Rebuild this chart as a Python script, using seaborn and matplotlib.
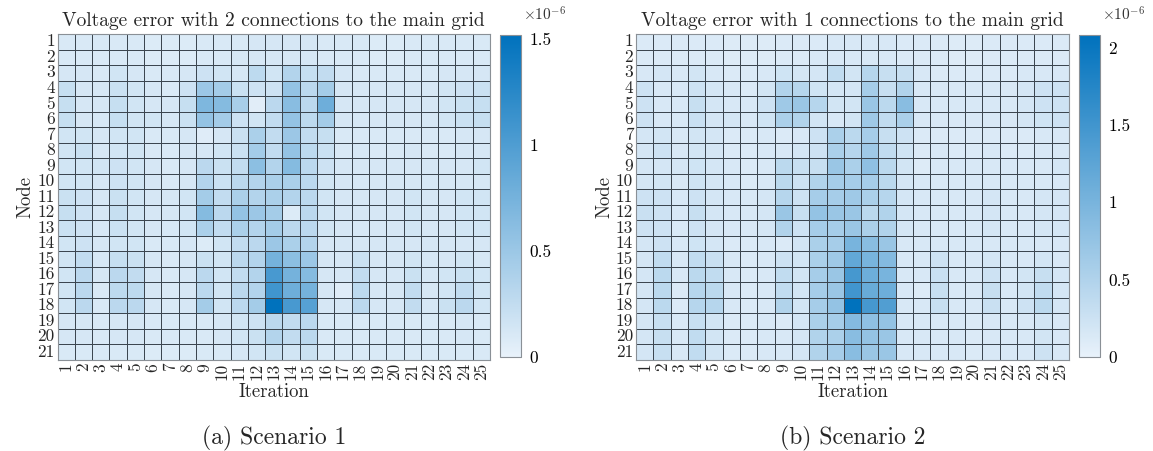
import numpy as np
import pandas as pd
import matplotlib
matplotlib.use("Agg")
import matplotlib.pyplot as plt
from matplotlib.colors import LinearSegmentedColormap
import seaborn as sns

# ---------------- data (units of 1e-6) ----------------
nodes = [str(i) for i in range(1, 22)]
iterations = [str(i) for i in range(1, 26)]

titles = ["Voltage error with 2 connections to the main grid",
          "Voltage error with 1 connections to the main grid"]
captions = ["(a) Scenario 1", "(b) Scenario 2"]
cbar_ticks_1 = [0, 0.5, 1, 1.5]
cbar_ticks_2 = [0, 0.5, 1, 1.5, 2]

scenario1 = [
    [0.10,0.10,0.10,0.10,0.10,0.08,0.08,0.08,0.10,0.10,0.10,0.12,0.12,0.12,0.12,0.10,0.10,0.10,0.08,0.08,0.10,0.10,0.10,0.10,0.10],
    [0.10,0.10,0.10,0.10,0.10,0.08,0.08,0.08,0.10,0.10,0.12,0.12,0.12,0.12,0.12,0.10,0.10,0.10,0.08,0.08,0.10,0.10,0.10,0.10,0.10],
    [0.12,0.12,0.10,0.15,0.12,0.10,0.10,0.12,0.18,0.15,0.12,0.28,0.15,0.35,0.22,0.25,0.12,0.10,0.10,0.10,0.10,0.10,0.12,0.12,0.12],
    [0.22,0.12,0.12,0.20,0.15,0.12,0.10,0.18,0.50,0.45,0.20,0.18,0.18,0.55,0.30,0.45,0.12,0.12,0.12,0.12,0.12,0.12,0.15,0.18,0.20],
    [0.22,0.12,0.12,0.22,0.15,0.12,0.12,0.22,0.70,0.65,0.42,0.05,0.30,0.62,0.30,0.80,0.12,0.12,0.12,0.12,0.12,0.12,0.15,0.20,0.22],
    [0.22,0.12,0.12,0.22,0.15,0.15,0.12,0.20,0.55,0.45,0.18,0.15,0.25,0.55,0.28,0.45,0.12,0.12,0.12,0.12,0.12,0.12,0.15,0.20,0.22],
    [0.15,0.15,0.12,0.15,0.15,0.10,0.10,0.12,0.06,0.12,0.20,0.40,0.25,0.50,0.25,0.22,0.10,0.10,0.10,0.10,0.10,0.10,0.10,0.12,0.12],
    [0.15,0.20,0.12,0.15,0.15,0.10,0.10,0.12,0.12,0.15,0.20,0.45,0.25,0.55,0.28,0.20,0.10,0.12,0.10,0.10,0.12,0.10,0.10,0.12,0.12],
    [0.15,0.15,0.15,0.18,0.15,0.12,0.10,0.12,0.30,0.20,0.25,0.60,0.35,0.65,0.30,0.18,0.12,0.12,0.12,0.12,0.12,0.12,0.12,0.12,0.15],
    [0.15,0.15,0.12,0.18,0.15,0.12,0.10,0.12,0.35,0.20,0.30,0.35,0.40,0.40,0.30,0.15,0.12,0.12,0.12,0.12,0.12,0.12,0.12,0.12,0.12],
    [0.20,0.18,0.12,0.20,0.15,0.12,0.12,0.15,0.45,0.25,0.40,0.35,0.40,0.35,0.30,0.15,0.12,0.12,0.12,0.12,0.15,0.12,0.12,0.15,0.15],
    [0.22,0.18,0.12,0.22,0.15,0.12,0.12,0.15,0.65,0.30,0.55,0.50,0.45,0.08,0.30,0.15,0.12,0.12,0.12,0.12,0.15,0.12,0.12,0.15,0.15],
    [0.20,0.18,0.12,0.20,0.15,0.12,0.12,0.15,0.40,0.25,0.40,0.35,0.45,0.30,0.30,0.15,0.12,0.12,0.12,0.12,0.15,0.12,0.12,0.15,0.15],
    [0.15,0.18,0.12,0.15,0.15,0.10,0.10,0.12,0.08,0.15,0.25,0.30,0.50,0.40,0.35,0.12,0.12,0.12,0.12,0.12,0.12,0.12,0.12,0.12,0.12],
    [0.15,0.25,0.12,0.22,0.20,0.12,0.10,0.12,0.20,0.15,0.30,0.35,0.75,0.60,0.50,0.12,0.12,0.20,0.12,0.12,0.15,0.12,0.12,0.15,0.12],
    [0.15,0.30,0.12,0.30,0.25,0.12,0.10,0.12,0.30,0.15,0.25,0.35,1.05,0.75,0.65,0.12,0.12,0.25,0.12,0.12,0.20,0.12,0.15,0.20,0.15],
    [0.15,0.30,0.10,0.28,0.28,0.12,0.10,0.12,0.30,0.15,0.30,0.35,1.10,0.80,0.75,0.12,0.06,0.28,0.12,0.12,0.25,0.12,0.15,0.25,0.15],
    [0.15,0.30,0.10,0.30,0.30,0.12,0.10,0.12,0.45,0.15,0.30,0.45,1.52,1.05,0.95,0.12,0.12,0.30,0.12,0.12,0.25,0.12,0.20,0.30,0.15],
    [0.12,0.12,0.10,0.12,0.12,0.10,0.10,0.10,0.10,0.12,0.15,0.18,0.30,0.25,0.30,0.10,0.10,0.10,0.10,0.10,0.10,0.10,0.10,0.12,0.10],
    [0.12,0.12,0.10,0.12,0.12,0.10,0.10,0.10,0.10,0.12,0.15,0.20,0.35,0.25,0.30,0.10,0.10,0.10,0.10,0.10,0.10,0.10,0.10,0.12,0.10],
    [0.10,0.10,0.10,0.10,0.10,0.08,0.08,0.08,0.10,0.10,0.12,0.15,0.20,0.15,0.20,0.10,0.10,0.10,0.10,0.10,0.10,0.10,0.10,0.10,0.10],
]

scenario2 = [
    [0.12,0.12,0.12,0.12,0.12,0.10,0.10,0.10,0.12,0.12,0.12,0.15,0.15,0.15,0.15,0.12,0.12,0.12,0.10,0.10,0.12,0.12,0.12,0.12,0.12],
    [0.12,0.12,0.12,0.12,0.12,0.10,0.10,0.10,0.12,0.12,0.15,0.15,0.15,0.15,0.15,0.12,0.12,0.12,0.10,0.10,0.12,0.12,0.12,0.12,0.12],
    [0.15,0.18,0.15,0.20,0.15,0.12,0.12,0.15,0.22,0.18,0.18,0.35,0.20,0.45,0.30,0.30,0.15,0.12,0.12,0.12,0.12,0.12,0.15,0.15,0.15],
    [0.25,0.15,0.15,0.25,0.18,0.15,0.12,0.20,0.50,0.45,0.22,0.18,0.18,0.60,0.30,0.50,0.15,0.15,0.15,0.15,0.15,0.15,0.18,0.25,0.25],
    [0.25,0.15,0.15,0.30,0.18,0.15,0.15,0.25,0.65,0.70,0.45,0.20,0.20,0.70,0.40,0.85,0.15,0.15,0.15,0.15,0.15,0.15,0.18,0.25,0.25],
    [0.25,0.15,0.15,0.28,0.18,0.18,0.15,0.22,0.55,0.50,0.20,0.15,0.20,0.65,0.35,0.55,0.15,0.15,0.15,0.15,0.15,0.15,0.18,0.22,0.25],
    [0.18,0.20,0.15,0.20,0.18,0.12,0.12,0.15,0.12,0.15,0.25,0.55,0.40,0.60,0.30,0.25,0.12,0.12,0.12,0.12,0.12,0.12,0.12,0.15,0.15],
    [0.18,0.25,0.15,0.20,0.18,0.12,0.12,0.15,0.15,0.18,0.25,0.55,0.45,0.65,0.35,0.22,0.12,0.15,0.12,0.12,0.15,0.12,0.12,0.15,0.15],
    [0.18,0.18,0.18,0.22,0.18,0.15,0.12,0.15,0.40,0.30,0.30,0.70,0.55,0.80,0.40,0.20,0.10,0.15,0.15,0.15,0.15,0.15,0.15,0.15,0.18],
    [0.18,0.20,0.15,0.22,0.18,0.15,0.12,0.15,0.40,0.25,0.50,0.60,0.60,0.60,0.40,0.18,0.15,0.15,0.15,0.15,0.15,0.15,0.15,0.15,0.15],
    [0.25,0.25,0.15,0.25,0.18,0.15,0.15,0.18,0.45,0.25,0.60,0.60,0.65,0.55,0.45,0.18,0.15,0.15,0.15,0.15,0.18,0.15,0.15,0.18,0.18],
    [0.28,0.25,0.15,0.30,0.18,0.15,0.15,0.18,0.70,0.30,0.75,0.70,0.70,0.40,0.50,0.18,0.15,0.15,0.15,0.15,0.18,0.15,0.15,0.18,0.18],
    [0.25,0.25,0.15,0.25,0.18,0.15,0.15,0.18,0.50,0.25,0.60,0.60,0.70,0.55,0.50,0.18,0.15,0.15,0.15,0.15,0.18,0.15,0.15,0.18,0.18],
    [0.18,0.25,0.15,0.22,0.18,0.12,0.12,0.15,0.12,0.20,0.55,0.60,1.00,0.85,0.70,0.15,0.15,0.15,0.15,0.15,0.15,0.15,0.15,0.15,0.15],
    [0.18,0.35,0.15,0.35,0.28,0.15,0.12,0.15,0.25,0.20,0.55,0.65,1.20,1.00,0.90,0.15,0.15,0.25,0.15,0.15,0.18,0.15,0.15,0.20,0.15],
    [0.18,0.40,0.15,0.40,0.35,0.15,0.12,0.15,0.35,0.20,0.60,0.70,1.45,1.10,1.00,0.15,0.15,0.28,0.15,0.15,0.25,0.15,0.20,0.30,0.18],
    [0.18,0.40,0.12,0.45,0.40,0.15,0.12,0.15,0.35,0.20,0.60,0.70,1.50,1.15,1.10,0.15,0.10,0.30,0.15,0.15,0.30,0.15,0.20,0.35,0.18],
    [0.18,0.40,0.12,0.45,0.45,0.15,0.12,0.15,0.50,0.20,0.60,0.75,2.08,1.45,1.35,0.15,0.15,0.30,0.15,0.15,0.28,0.15,0.25,0.40,0.18],
    [0.18,0.30,0.15,0.30,0.20,0.12,0.12,0.15,0.12,0.18,0.55,0.60,0.90,0.80,0.75,0.15,0.15,0.15,0.15,0.12,0.15,0.15,0.15,0.20,0.15],
    [0.18,0.30,0.15,0.35,0.20,0.12,0.12,0.15,0.15,0.18,0.50,0.55,0.85,0.75,0.70,0.15,0.15,0.15,0.15,0.12,0.15,0.15,0.15,0.20,0.15],
    [0.18,0.30,0.15,0.35,0.20,0.12,0.12,0.15,0.15,0.18,0.50,0.60,0.85,0.70,0.70,0.15,0.15,0.15,0.15,0.12,0.15,0.15,0.15,0.25,0.15],
]

# ---------------- style ----------------
sns.set_style("white")
plt.rcParams["font.family"] = ["cmr10", "DejaVu Serif"]
plt.rcParams["mathtext.fontset"] = "cm"
plt.rcParams["axes.formatter.use_mathtext"] = True

cmap = LinearSegmentedColormap.from_list("mblue", ["#e8f1fa", "#0072bd"])

W, H = 1153, 451
fig = plt.figure(figsize=(W / 100, H / 100), dpi=100)


def px_axes(x0, y0, x1, y1):
    return fig.add_axes([x0 / W, 1 - y1 / H, (x1 - x0) / W, (y1 - y0) / H])


panels = [
    dict(data=scenario1, ax=(57.5, 34, 490, 360), cax=(500, 35, 521, 357),
         ticks=cbar_ticks_1, title=titles[0], cap=captions[0]),
    dict(data=scenario2, ax=(636, 34, 1069, 360), cax=(1079, 35, 1100, 357),
         ticks=cbar_ticks_2, title=titles[1], cap=captions[1]),
]

for p in panels:
    df = pd.DataFrame(p["data"], index=nodes, columns=iterations)
    ax = px_axes(*p["ax"])
    cax = px_axes(*p["cax"])
    vmax = float(np.max(df.values))
    sns.heatmap(df, ax=ax, cbar_ax=cax, cmap=cmap, vmin=0, vmax=vmax,
                linewidths=0.7, linecolor="#3c4650",
                xticklabels=iterations, yticklabels=nodes)
    ax.tick_params(length=0, labelsize=12, pad=2)
    ax.set_xticklabels(iterations, rotation=90, fontsize=12.5)
    ax.set_yticklabels(nodes, rotation=0, fontsize=12.5)
    for s in ax.spines.values():
        s.set_visible(True)
        s.set_color("#8a9096")
        s.set_linewidth(0.8)
    ax.set_title(p["title"], fontsize=14, pad=6)
    ax.set_xlabel("Iteration", fontsize=13.5, labelpad=2)
    ax.set_ylabel("Node", fontsize=13.5, labelpad=2)

    cbar = ax.collections[0].colorbar
    cbar.set_ticks(p["ticks"])
    cbar.set_ticklabels([f"{t:g}" for t in p["ticks"]])
    cax.tick_params(axis="y", direction="in", length=3, width=0.6, pad=6,
                    colors="#555555", labelcolor="black", labelsize=12.5)
    cbar.outline.set_edgecolor("#8a9096")
    cbar.outline.set_linewidth(0.8)
    cx1 = p["cax"][2]
    fig.text((cx1 + 2) / W, 1 - 21 / H, r"$\times10^{-6}$", fontsize=11,
             ha="left", va="baseline", color="#333333")

    axc = (p["ax"][0] + p["ax"][2]) / 2
    fig.text(axc / W, 1 - 444 / H, p["cap"], fontsize=17, ha="center",
             va="baseline")

fig.savefig("out.png", dpi=100)
